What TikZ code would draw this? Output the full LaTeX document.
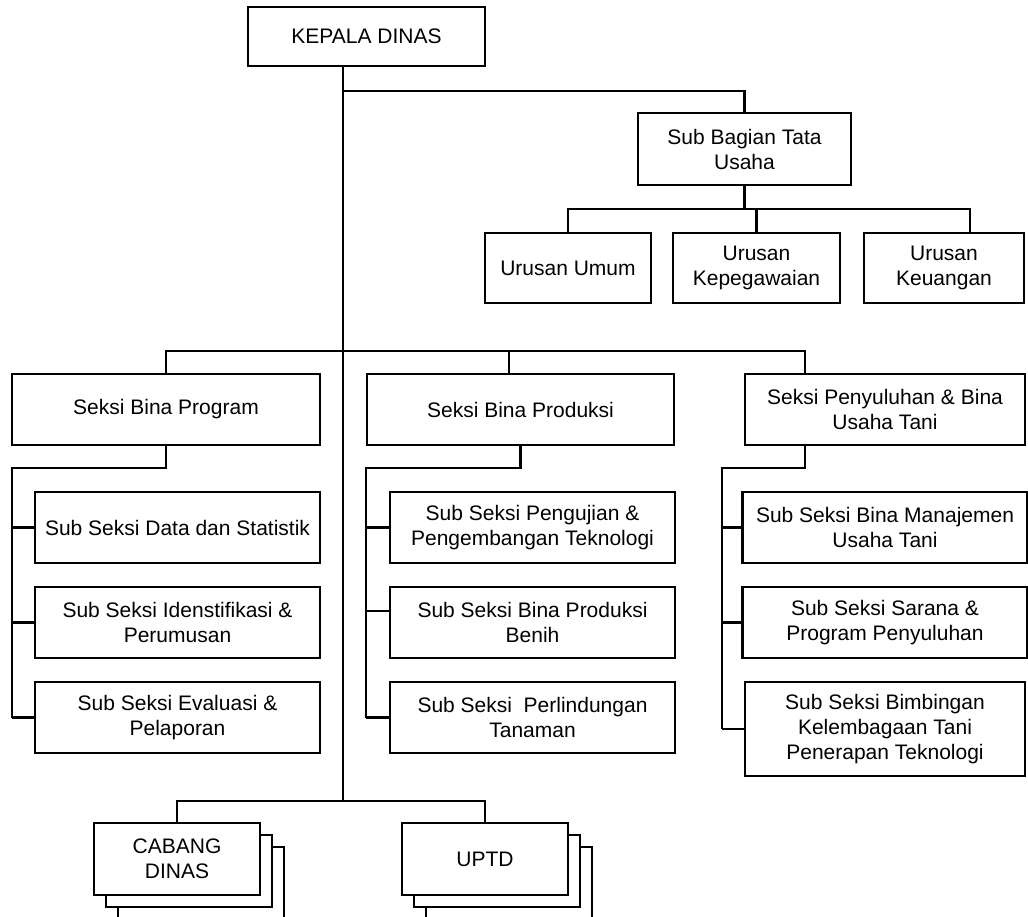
\documentclass[tikz,border=0pt]{standalone}
\usepackage{fontspec}
\setmainfont{Liberation Sans}
\usetikzlibrary{positioning,calc}

\begin{document}
\begin{tikzpicture}[x=1pt, y=-1pt, line width=2.2pt,
  unit/.style={draw, fill=white, align=center, inner sep=0pt,
    font=\fontsize{21}{25}\selectfont},
  subunit/.style={unit, minimum width=285pt, minimum height=71pt}]
  \useasboundingbox (0,0) rectangle (1028,917);
  \def\xL{177.5} \def\xM{532.5} \def\xR{885}
  \def\yA{527.5} \def\yB{622.5} \def\yC{717.5}

  % pimpinan
  \node[unit, minimum width=237pt, minimum height=59pt] (kepala) at (366.5,36.5) {KEPALA DINAS};
  \node[unit, minimum width=213pt, minimum height=72pt] (sbtu) at (744.5,149) {Sub Bagian Tata\\Usaha};
  \node[unit, minimum width=166pt, minimum height=70pt] (umum) at (568,268) {Urusan Umum};
  \node[unit, minimum width=167pt, minimum height=70pt] (kepeg) at (756.5,268) {Urusan\\Kepegawaian};
  \node[unit, minimum width=160pt, minimum height=70pt] (keu) at (944,268) {Urusan\\Keuangan};

  % seksi
  \node[unit, minimum width=308pt, minimum height=71pt] (program) at (166,409.5) {Seksi Bina Program};
  \node[unit, minimum width=307pt, minimum height=71pt] (produksi) at (520.5,409.5) {Seksi Bina Produksi};
  \node[unit, minimum width=280pt, minimum height=71pt] (penyuluhan) at (885,409.5) {Seksi Penyuluhan \& Bina\\Usaha Tani};

  % sub seksi
  \foreach \n/\x/\y/\txt in {
      pa/\xL/\yA/{Sub Seksi Data dan Statistik},
      pb/\xL/\yB/{Sub Seksi Idenstifikasi \&\\Perumusan},
      pc/\xL/\yC/{Sub Seksi Evaluasi \&\\Pelaporan},
      ma/\xM/\yA/{Sub Seksi Pengujian \&\\Pengembangan Teknologi},
      mb/\xM/\yB/{Sub Seksi Bina Produksi\\Benih},
      mc/\xM/\yC/{Sub Seksi\ \ Perlindungan\\Tanaman},
      ra/\xR/\yA/{Sub Seksi Bina Manajemen\\Usaha Tani},
      rb/\xR/\yB/{Sub Seksi Sarana \&\\Program Penyuluhan}}{
    \node[subunit] (\n) at (\x,\y) {\txt};
  }
  \node[subunit, minimum width=280pt, minimum height=94pt] (rc) at (\xR,729)
    {Sub Seksi Bimbingan\\Kelembagaan Tani\\Penerapan Teknologi};

  % cabang dan uptd
  \foreach \dx/\dy in {24/24,12/12}{
    \node[unit, minimum width=166pt, minimum height=72pt] at (177+\dx,859+\dy) {};
    \node[unit, minimum width=166pt, minimum height=72pt] at (485+\dx,859+\dy) {};
  }
  \node[unit, minimum width=166pt, minimum height=72pt] (cabang) at (177,859) {CABANG\\DINAS};
  \node[unit, minimum width=166pt, minimum height=72pt] (uptd) at (485,859) {UPTD};

  % garis komando
  \coordinate (trunk) at ([xshift=-23.5pt]kepala.south);
  \coordinate (sbar) at (343,351);
  \coordinate (hub) at (343,801);
  \draw (trunk) -- (hub);
  \draw ([yshift=-24pt]trunk) -| (sbtu.north);
  \draw (sbtu.south) -- ++(0,23) coordinate (ubar);
  \draw (umum.north) |- ([xshift=26pt]keu.north |- ubar) -- ([xshift=26pt]keu.north);
  \draw (kepeg.north) -- (kepeg.north |- ubar);
  \draw (program.north) |- (sbar) -| ([xshift=-80pt]penyuluhan.north);
  \draw ([xshift=-11.5pt]produksi.north) -- ([xshift=-11.5pt]produksi.north |- sbar);
  \draw (cabang.north) |- (hub) -| (uptd.north);

  % garis sub seksi
  \coordinate (pspine) at (12,468);
  \coordinate (mspine) at (366,468);
  \coordinate (rspine) at (722,468);
  \draw (program.south) |- (pspine) -- (pspine |- pc.west);
  \draw (produksi.south) |- (mspine) -- (mspine |- mc.west);
  \draw ([xshift=-80pt]penyuluhan.south) |- (rspine) -- (rspine |- rc.west);
  \foreach \s in {pa,pb,pc} \draw (pspine |- \s.west) -- (\s.west);
  \foreach \s in {ma,mc} \draw (mspine |- \s.west) -- (\s.west);
  \draw ([yshift=11.5pt]mb.west) -- ++(-24,0);
  \foreach \s in {ra,rb,rc} \draw (rspine |- \s.west) -- (\s.west);
\end{tikzpicture}
\end{document}
